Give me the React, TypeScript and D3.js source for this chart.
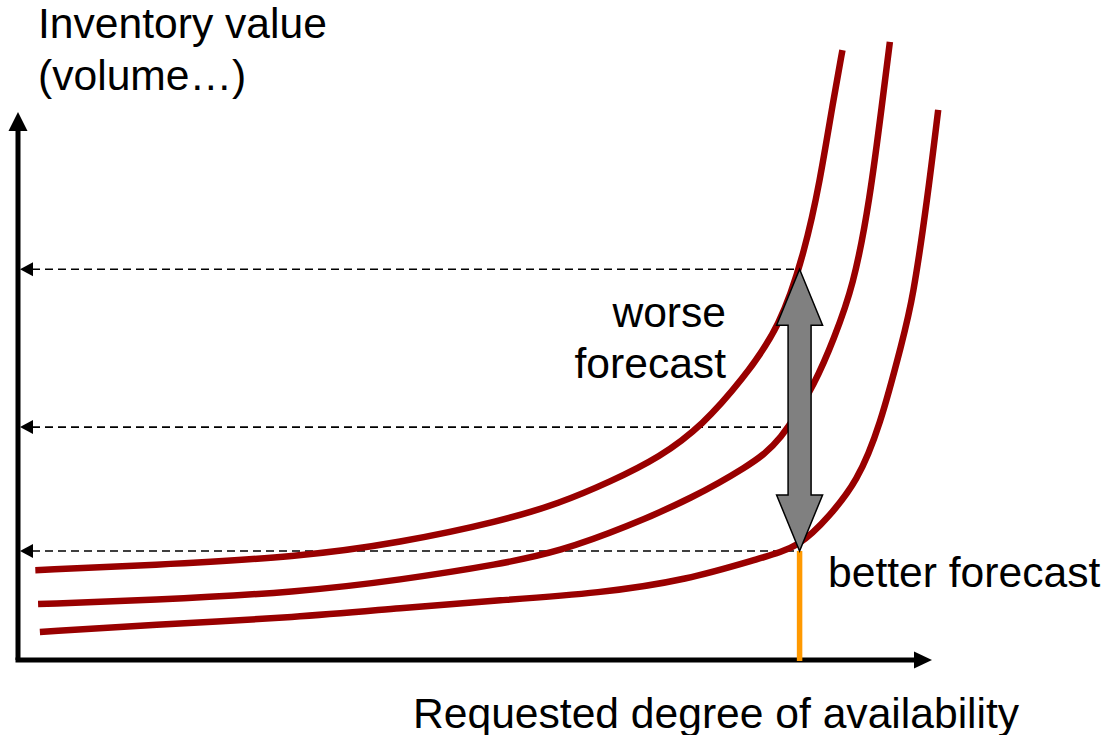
import React from 'react';
import * as d3 from 'd3';

// Requested degree of availability (0..100) vs inventory value (0..100)
const worseCurve: [number, number][] = [
  [1.9, 16.4], [14.5, 17.3], [30.9, 18.8], [41.9, 21.4], [52.9, 25.3], [59.4, 28.6],
  [64.9, 32.5], [70.4, 37.0], [75.1, 42.9], [79.4, 51.1], [83.6, 60.8], [86.3, 74.8],
  [87.9, 87.0], [89.4, 102.2], [90.4, 111.3],
];
const midCurve: [number, number][] = [
  [2.2, 10.2], [14.5, 10.9], [30.9, 12.4], [41.9, 14.6], [52.9, 17.5], [59.4, 19.8],
  [66.8, 24.3], [74.0, 29.6], [79.9, 35.2], [83.6, 39.6], [87.6, 51.1], [89.4, 58.4],
  [91.6, 68.1], [93.4, 83.9], [94.8, 102.2], [95.6, 112.8],
];
const betterCurve: [number, number][] = [
  [2.4, 5.1], [14.5, 6.4], [30.9, 7.8], [41.9, 9.5], [52.9, 10.9], [63.8, 12.2],
  [73.4, 14.6], [81.4, 18.6], [85.7, 20.6], [89.0, 26.3], [92.0, 32.5], [94.5, 42.5],
  [97.0, 58.4], [98.1, 65.7], [99.7, 83.9], [100.9, 100.4],
];
const curves = [worseCurve, midCurve, betterCurve];

const levels = [71.3, 42.5, 19.9]; // dashed reference levels
const targetAvailability = 85.7;

const W = 1103;
const H = 735;
const FONT = 'Arial, "Liberation Sans", Helvetica, sans-serif';

export default function App() {
  const x = d3.scaleLinear().domain([0, 100]).range([18, 930]);
  const y = d3.scaleLinear().domain([0, 100]).range([660, 112]);

  const line = d3
    .line<[number, number]>()
    .x(d => x(d[0]))
    .y(d => y(d[1]))
    .curve(d3.curveBasis);

  const x0 = x(0);
  const y0 = y(0);
  const tx = x(targetAvailability);

  // gray double arrow between worse and better levels
  const top = y(levels[0]);
  const bot = y(levels[2]);
  const headLen = 56;
  const headHalf = 23;
  const shaftHalf = 11.5;
  const arrowPath = [
    [tx, top],
    [tx + headHalf, top + headLen],
    [tx + shaftHalf, top + headLen],
    [tx + shaftHalf, bot - headLen],
    [tx + headHalf, bot - headLen],
    [tx, bot],
    [tx - headHalf, bot - headLen],
    [tx - shaftHalf, bot - headLen],
    [tx - shaftHalf, top + headLen],
    [tx - headHalf, top + headLen],
  ]
    .map((p, i) => `${i ? 'L' : 'M'}${p[0]},${p[1]}`)
    .join('') + 'Z';

  return (
    <svg width={W} height={H} style={{ position: 'absolute', left: 0, top: 0, background: '#fff' }}>
      {/* axes */}
      <line x1={x0} y1={y0} x2={x0} y2={128} stroke="#000" strokeWidth={5} />
      <path d={`M${x0},112 L${x0 + 9.5},131 L${x0 - 9.5},131 Z`} fill="#000" />
      <line x1={x0 - 2.5} y1={y0} x2={915} y2={y0} stroke="#000" strokeWidth={5} />
      <path d={`M932,${y0} L914,${y0 - 8.5} L914,${y0 + 8.5} Z`} fill="#000" />

      {/* dashed levels */}
      {levels.map((lv, i) => (
        <g key={i}>
          <line
            x1={x0 + 14}
            y1={y(lv)}
            x2={tx - 5}
            y2={y(lv)}
            stroke="#000"
            strokeWidth={1.6}
            strokeDasharray="8,5"
          />
          <path d={`M${x0 + 2},${y(lv)} L${x0 + 15},${y(lv) - 7} L${x0 + 15},${y(lv) + 7} Z`} fill="#000" />
        </g>
      ))}

      {/* curves */}
      {curves.map((c, i) => (
        <path key={i} d={line(c) || ''} fill="none" stroke="#990000" strokeWidth={6.5} />
      ))}

      {/* orange marker */}
      <line x1={tx} y1={bot} x2={tx} y2={y0 + 1} stroke="#FF9900" strokeWidth={5.5} />

      {/* double arrow */}
      <path d={arrowPath} fill="#808080" stroke="#000" strokeWidth={1.5} strokeLinejoin="miter" />

      {/* labels */}
      <g fontFamily={FONT} fontSize={42.6} fill="#000">
        <text x={38} y={38}>Inventory value</text>
        <text x={38} y={90}>(volume…)</text>
        <text x={726} y={327} textAnchor="end">worse</text>
        <text x={726} y={378} textAnchor="end">forecast</text>
        <text x={828} y={587}>better forecast</text>
        <text x={413} y={728}>Requested degree of availability</text>
      </g>
    </svg>
  );
}
